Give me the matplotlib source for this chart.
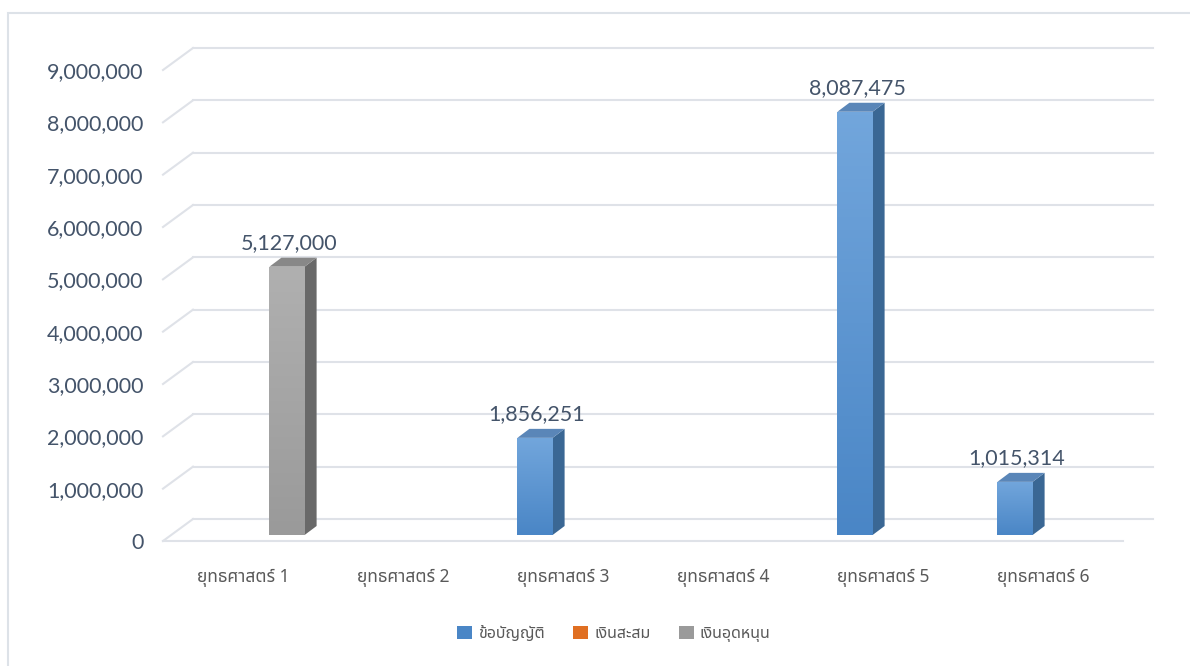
import numpy as np
import matplotlib
matplotlib.use('Agg')
import matplotlib.pyplot as plt
from matplotlib import font_manager
from matplotlib.ft2font import FT2Font
from matplotlib.patches import Polygon, Rectangle

categories = ['ยุทธศาสตร์ 1', 'ยุทธศาสตร์ 2', 'ยุทธศาสตร์ 3',
              'ยุทธศาสตร์ 4', 'ยุทธศาสตร์ 5', 'ยุทธศาสตร์ 6']
series_names = ['ข้อบัญญัติ', 'เงินสะสม', 'เงินอุดหนุน']
budget = [0, 0, 1856251, 0, 8087475, 1015314]
savings = [0, 0, 0, 0, 0, 0]
subsidy = [5127000, 0, 0, 0, 0, 0]
yticks = [0, 1000000, 2000000, 3000000, 4000000, 5000000,
          6000000, 7000000, 8000000, 9000000]

# colours: front top, front bottom, side, top face
colors = [('#72a6dc', '#4a86c6', '#3a6794', '#5a86b8'),
          ('#f28a45', '#e06f22', '#a8521a', '#c8621e'),
          ('#b0b0b0', '#9a9a9a', '#696969', '#888888')]


# find a font that has thai glyphs
def find_thai_font():
    found = []
    for f in font_manager.fontManager.ttflist:
        try:
            cmap = FT2Font(f.fname).get_charmap()
        except Exception:
            continue
        if 0x0E22 in cmap and 0x0E17 in cmap:
            found.append(f.name)
    for pref in ['Noto Sans Thai', 'Noto Sans Thai UI', 'Tahoma', 'Leelawadee UI']:
        if pref in found:
            return pref
    return found[0] if found else None


thai = find_thai_font()
num_font = ['Lato', 'DejaVu Sans']
thai_font = [thai, 'DejaVu Sans'] if thai else ['DejaVu Sans']

W, H = 1190, 666
fig = plt.figure(figsize=(W / 100, H / 100), dpi=100)
ax = fig.add_axes([163 / W, (H - 541) / H, 960 / W, 471 / H])
ax.set_xlim(-0.5, 5.5)
ax.set_ylim(0, 9000000)

px_x = 6 / 960
px_y = 9000000 / 471

# outer frame
fig.patches.append(Rectangle((8 / W, -0.1), 1.2, 1 - 13 / H + 0.1,
                             transform=fig.transFigure, fill=False,
                             edgecolor='#dde2e8', lw=1.5))

# walls / gridlines
back_dx, back_dy = 30 * px_x, 22 * px_y
gcol = '#dfe2e8'
for v in yticks:
    ax.plot([-0.5 + back_dx, 5.5 + back_dx], [v + back_dy, v + back_dy],
            color=gcol, lw=1.5, clip_on=False, zorder=1)
    ax.plot([-0.5, -0.5 + back_dx], [v, v + back_dy],
            color=gcol, lw=1.5, clip_on=False, zorder=1)
ax.plot([-0.5, 5.5], [0, 0], color=gcol, lw=1.5, clip_on=False, zorder=1)

# bars
offsets = [-0.225, 0.0, 0.225]
width = 0.22
shift_x, shift_y = 8 * px_x, 6 * px_y
dep_x, dep_y = 12 * px_x, 9 * px_y
grad = np.linspace(0, 1, 100).reshape(-1, 1)

for s, vals in enumerate([budget, savings, subsidy]):
    c_top, c_bot, c_side, c_cap = colors[s]
    cmap = matplotlib.colors.LinearSegmentedColormap.from_list('g', [c_bot, c_top])
    for i, v in enumerate(vals):
        if v <= 0:
            continue
        x0 = i + offsets[s] - width / 2 + shift_x
        x1 = x0 + width
        y0 = shift_y
        y1 = y0 + v
        bar = ax.bar(x0, v, width=width, bottom=y0, align='edge',
                     color=c_bot, zorder=3, clip_on=False)[0]
        im = ax.imshow(grad, extent=[x0, x1, y0, y1], origin='lower',
                       cmap=cmap, aspect='auto', zorder=3.1)
        im.set_clip_path(bar)
        ax.add_patch(Polygon([(x1, y0), (x1 + dep_x, y0 + dep_y),
                              (x1 + dep_x, y1 + dep_y), (x1, y1)],
                             closed=True, facecolor=c_side, edgecolor='none',
                             zorder=3, clip_on=False))
        ax.add_patch(Polygon([(x0, y1), (x1, y1), (x1 + dep_x, y1 + dep_y),
                              (x0 + dep_x, y1 + dep_y)],
                             closed=True, facecolor=c_cap, edgecolor='none',
                             zorder=3, clip_on=False))
        ax.text((x0 + x1) / 2 + 2 * px_x, y1 + dep_y + 5 * px_y, f'{v:,}',
                ha='center', va='bottom', fontsize=15.5, color='#44546a',
                family=num_font, zorder=5)

ax.set_xlim(-0.5, 5.5)
ax.set_ylim(0, 9000000)

ax.set_xticks(range(len(categories)))
ax.set_xticklabels(categories, family=thai_font, fontsize=12.5, color='#595959')
ax.set_yticks(yticks)
ax.set_yticklabels([f'{v:,}' for v in yticks], family=num_font,
                   fontsize=15.5, color='#44546a')
ax.tick_params(axis='x', length=0, pad=20)
ax.tick_params(axis='y', length=0, pad=14)
for sp in ax.spines.values():
    sp.set_visible(False)
ax.patch.set_visible(False)

handles = [Rectangle((0, 0), 1, 1, facecolor=colors[k][1]) for k in range(3)]
fig.legend(handles, series_names, loc='center', ncol=3,
           bbox_to_anchor=(614 / W, 1 - 634 / H), frameon=False,
           prop={'family': thai_font, 'size': 11.5}, labelcolor='#595959',
           handlelength=0.9, handleheight=0.9, handletextpad=0.4,
           columnspacing=1.8)

fig.savefig('out.png', dpi=100)
